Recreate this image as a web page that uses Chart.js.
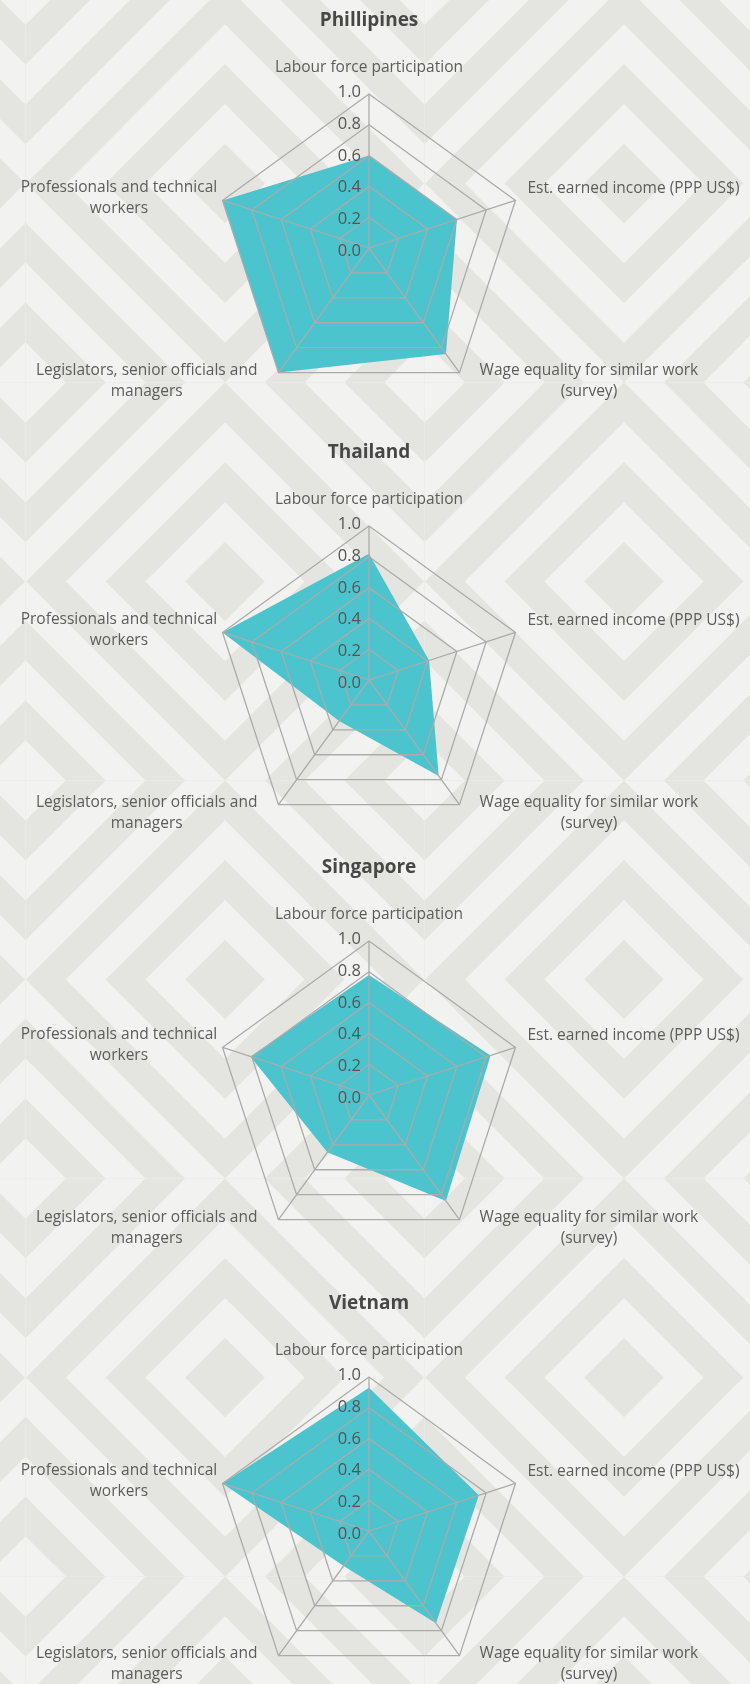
<!DOCTYPE html>
<html>
<head>
<meta charset="utf-8">
<title>Gender gap radar charts</title>
<script src="https://cdn.jsdelivr.net/npm/chart.js@4.4.1/dist/chart.umd.min.js"></script>
<style>
  html, body { margin: 0; padding: 0; }
  body { width: 750px; height: 1684px; overflow: hidden; position: relative; background: #f2f2f0; }
  #bg { position: absolute; left: 0; top: 0; }
  .panel { position: absolute; left: 0; width: 750px; height: 440px; }
</style>
</head>
<body>
<canvas id="bg" width="750" height="1684"></canvas>
<script>
// Data
const axisLabels = [
    'Labour force participation',
    'Est. earned income (PPP US$)',
    ['Wage equality for similar work', '(survey)'],
    ['Legislators, senior officials and', 'managers'],
    ['Professionals and technical', 'workers']
];
const countries = ['Phillipines', 'Thailand', 'Singapore', 'Vietnam'];
const phillipines = [0.60, 0.60, 0.85, 1.00, 1.00];
const thailand = [0.82, 0.41, 0.77, 0.33, 1.00];
const singapore = [0.78, 0.83, 0.85, 0.46, 0.81];
const vietnam = [0.93, 0.75, 0.74, 0.28, 1.00];
const seriesValues = [phillipines, thailand, singapore, vietnam];
const tickStep = 0.2;

// Layout / style
const FONT = "'Open Sans', sans-serif";
const FILL = '#4bc4cd';
const GRID = '#ababab';
const panelCenters = [248, 680, 1095, 1531];   // y of each radar centre on the page

// where each axis label sits relative to its outer vertex
const labelOffsets = [
    { align: 'center', dx: 0, dy: -26.8 },
    { align: 'left', dx: 12, dy: -11.5 },
    { align: 'center', dx: 129.4, dy: -1.7 },
    { align: 'center', dx: -131.8, dy: -1.7 },
    { align: 'center', dx: -103.6, dy: -12.5 }
];

// Background: nested diamonds
function drawBackground() {
    const g = document.getElementById('bg').getContext('2d');
    const px = 399, py = 398, x0 = 225, y0 = 183.5, ring = 39.8;
    g.fillStyle = '#f2f2f0';
    g.fillRect(0, 0, 750, 1684);
    for (let cy = y0 - py; cy < 1684 + py; cy += py) {
        for (let cx = x0 - px; cx < 750 + px; cx += px) {
            g.save();
            g.beginPath();
            g.rect(cx - px / 2, cy - py / 2, px, py);
            g.clip();
            for (let k = 12; k >= 1; k--) {
                const r = k * ring;
                g.fillStyle = (k % 2 === 1) ? '#e4e4e0' : '#f2f2f0';
                g.beginPath();
                g.moveTo(cx, cy - r);
                g.lineTo(cx + r, cy);
                g.lineTo(cx, cy + r);
                g.lineTo(cx - r, cy);
                g.closePath();
                g.fill();
            }
            g.restore();
        }
    }
}

// Tick labels left of the axis + axis labels
const radarText = {
    id: 'radarText',
    afterDraw(chart) {
        const scale = chart.scales.r;
        const ctx = chart.ctx;
        ctx.save();
        ctx.textBaseline = 'middle';

        // tick labels are spread a little wider than the rings in the original
        ctx.font = `16.5px ${FONT}`;
        ctx.fillStyle = '#555555';
        ctx.textAlign = 'right';
        scale.ticks.forEach(t => {
            const d = scale.getDistanceFromCenterForValue(t.value);
            ctx.fillText(t.value.toFixed(1), scale.xCenter - 8, scale.yCenter - d * 1.03 + 3);
        });

        ctx.font = `15.5px ${FONT}`;
        ctx.fillStyle = '#5c5c5c';
        axisLabels.forEach((lab, i) => {
            const p = scale.getPointPosition(i, scale.drawingArea);
            const o = labelOffsets[i];
            ctx.textAlign = o.align;
            [].concat(lab).forEach((line, k) => {
                ctx.fillText(line, p.x + o.dx, p.y + o.dy + k * 20.7);
            });
        });
        ctx.restore();
    }
};

function makeChart(idx) {
    const wrap = document.createElement('div');
    wrap.className = 'panel';
    wrap.style.top = (panelCenters[idx] - 240) + 'px';
    const canvas = document.createElement('canvas');
    canvas.width = 750;
    canvas.height = 440;
    wrap.appendChild(canvas);
    document.body.appendChild(wrap);

    return new Chart(canvas.getContext('2d'), {
        type: 'radar',
        data: {
            labels: axisLabels,
            datasets: [{
                label: countries[idx],
                data: seriesValues[idx],
                backgroundColor: FILL,
                borderColor: 'rgba(0,0,0,0)',
                borderWidth: 0,
                pointRadius: 0,
                fill: true
            }]
        },
        options: {
            responsive: false,
            animation: false,
            layout: { padding: { left: 215, right: 227, top: 1, bottom: 46 } },
            plugins: {
                legend: { display: false },
                tooltip: { enabled: false },
                title: {
                    display: true,
                    text: countries[idx],
                    color: '#474747',
                    font: { family: FONT, size: 19, weight: 'bold' },
                    padding: { top: 0, bottom: 62.2 }
                }
            },
            scales: {
                r: {
                    min: 0,
                    max: 1,
                    ticks: { display: false, stepSize: tickStep },
                    pointLabels: { display: false },
                    grid: { color: GRID, lineWidth: 1.3, z: 1 },
                    angleLines: { color: GRID, lineWidth: 1.3 }
                }
            }
        },
        plugins: [radarText]
    });
}

drawBackground();
countries.forEach((c, i) => makeChart(i));
</script>
</body>
</html>
